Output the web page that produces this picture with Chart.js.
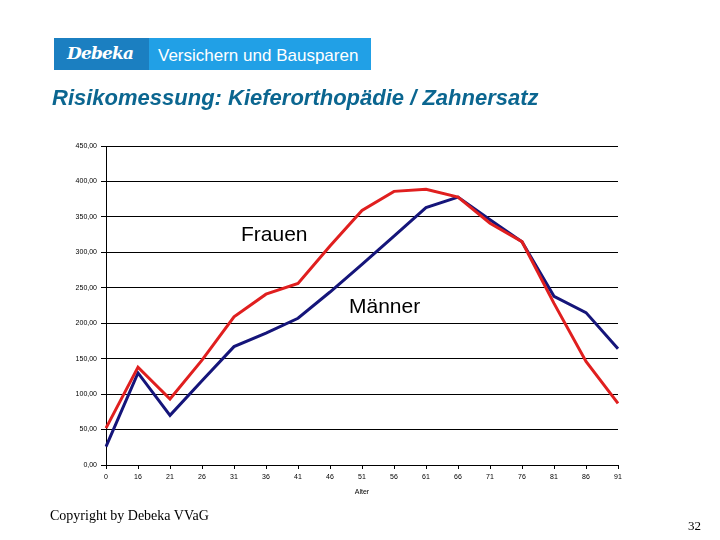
<!DOCTYPE html>
<html>
<head>
<meta charset="utf-8">
<script src="https://cdn.jsdelivr.net/npm/chart.js@4/dist/chart.umd.min.js"></script>
<style>
  html,body{margin:0;padding:0;background:#fff;}
  #wrap{position:relative;width:720px;height:540px;overflow:hidden;}
  canvas{position:absolute;left:0;top:0;}
  .abs{position:absolute;white-space:nowrap;}
  #logo{left:54px;top:38px;width:95px;height:32px;background:#1b7fc1;}
  #band{left:149px;top:38px;width:222px;height:32px;background:#21a0e6;}
  #logotxt{left:67px;top:43px;font-family:"DejaVu Serif",serif;font-style:italic;font-weight:bold;font-size:17px;color:#fff;letter-spacing:-0.8px;}
  #bandtxt{left:158px;top:46px;font-family:"Liberation Sans",Arial,sans-serif;font-size:17px;color:#fff;}
  #title{left:52px;top:85px;font-family:"Liberation Sans",Arial,sans-serif;font-style:italic;font-weight:bold;font-size:22px;color:#0b6690;}
  #frauen{left:241px;top:222px;font-family:"Liberation Sans",Arial,sans-serif;font-size:21px;color:#000;}
  #maenner{left:349px;top:294px;font-family:"Liberation Sans",Arial,sans-serif;font-size:21px;color:#000;}
  #copy{left:50px;top:508px;font-family:"Liberation Serif","Times New Roman",serif;font-size:14px;color:#000;}
  #page{left:688px;top:518px;font-family:"Liberation Serif","Times New Roman",serif;font-size:13px;color:#000;}
</style>
</head>
<body>
<div id="wrap">
  <canvas id="c" width="720" height="540"></canvas>
  <div class="abs" id="logo"></div>
  <div class="abs" id="band"></div>
  <div class="abs" id="logotxt">Debeka</div>
  <div class="abs" id="bandtxt">Versichern und Bausparen</div>
  <div class="abs" id="title">Risikomessung: Kieferorthopädie / Zahnersatz</div>
  <div class="abs" id="frauen">Frauen</div>
  <div class="abs" id="maenner">Männer</div>
  <div class="abs" id="copy">Copyright by Debeka VVaG</div>
  <div class="abs" id="page">32</div>
</div>
<script>
const ages = ["0","16","21","26","31","36","41","46","51","56","61","66","71","76","81","86","91"];
const frauen = [52,138,93,148,209,241,256,309,359,386,389,378,341,315,228,146,87];
const maenner = [26,130,70,119,167,186,207,244,283,323,363,378,346,315,238,215,164];
const yTicks = [0,50,100,150,200,250,300,350,400,450];

const tickFont = {family:"'Liberation Sans', Arial, sans-serif", size:7};

new Chart(document.getElementById('c'), {
  type:'line',
  data:{
    labels:ages,
    datasets:[
      {label:'Frauen', data:frauen, borderColor:'#e01f1f', borderWidth:3, pointRadius:0, tension:0, fill:false},
      {label:'Männer', data:maenner, borderColor:'#15157a', borderWidth:3, pointRadius:0, tension:0, fill:false}
    ]
  },
  options:{
    responsive:false,
    animation:false,
    layout:{padding:{left:56,right:102,top:146,bottom:44}},
    plugins:{legend:{display:false},tooltip:{enabled:false}},
    scales:{
      x:{
        offset:false,
        grid:{drawOnChartArea:false,drawTicks:true,tickLength:4,color:'#000',lineWidth:1},
        border:{display:true,color:'#000',width:1},
        ticks:{color:'#000',font:tickFont,padding:4,maxRotation:0,autoSkip:false},
        title:{display:true,text:'Alter',color:'#000',font:tickFont,padding:{top:6,bottom:0}},
        afterFit:s=>{s.height=31;}
      },
      y:{
        min:0,max:450,
        afterBuildTicks:s=>{s.ticks=yTicks.map(v=>({value:v}));},
        grid:{drawOnChartArea:true,drawTicks:true,tickLength:5,color:'#000',lineWidth:1},
        border:{display:true,color:'#000',width:1},
        ticks:{color:'#000',font:tickFont,padding:4,callback:v=>v.toFixed(2).replace('.',',')},
        afterFit:s=>{s.width=50;}
      }
    }
  }
});
</script>
</body>
</html>
